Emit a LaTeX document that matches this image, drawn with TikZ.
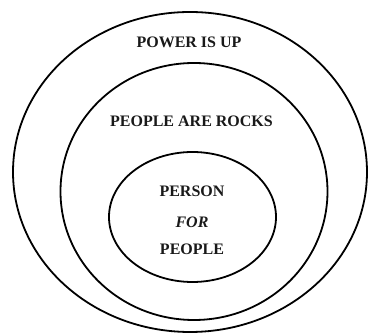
\documentclass[tikz,border=0pt]{standalone}
\usepackage{fontspec}
\setmainfont{Liberation Serif}
\usetikzlibrary{positioning,shapes.geometric}

\begin{document}
\begin{tikzpicture}[
  x=1pt, y=-1pt,
  ring/.style={ellipse, draw, line width=1.8pt, inner sep=0pt},
  lbl/.style={font=\fontsize{16}{18}\selectfont\bfseries, inner sep=0pt, text=black!90},
]
\useasboundingbox (0,0) rectangle (368,336);
\node[ring, minimum width=354pt, minimum height=320pt] (outer) at (190,172) {};
\node[ring, minimum width=267pt, minimum height=257pt] (middle) at (194,191.5) {};
\node[ring, minimum width=167pt, minimum height=130pt] (inner) at (192.5,217) {};

\node[lbl] (power)  at (189,42.5)  {POWER IS UP};
\node[lbl] (rocks)  at (191.5,121.5) {PEOPLE ARE ROCKS};
\node[lbl] (person) at (192,191.5) {PERSON};
\node[lbl, font=\fontsize{16}{18}\selectfont\bfseries\itshape] (for) at (192,222) {FOR};
\node[lbl] (people) at (192,249.5) {PEOPLE};
\end{tikzpicture}
\end{document}
